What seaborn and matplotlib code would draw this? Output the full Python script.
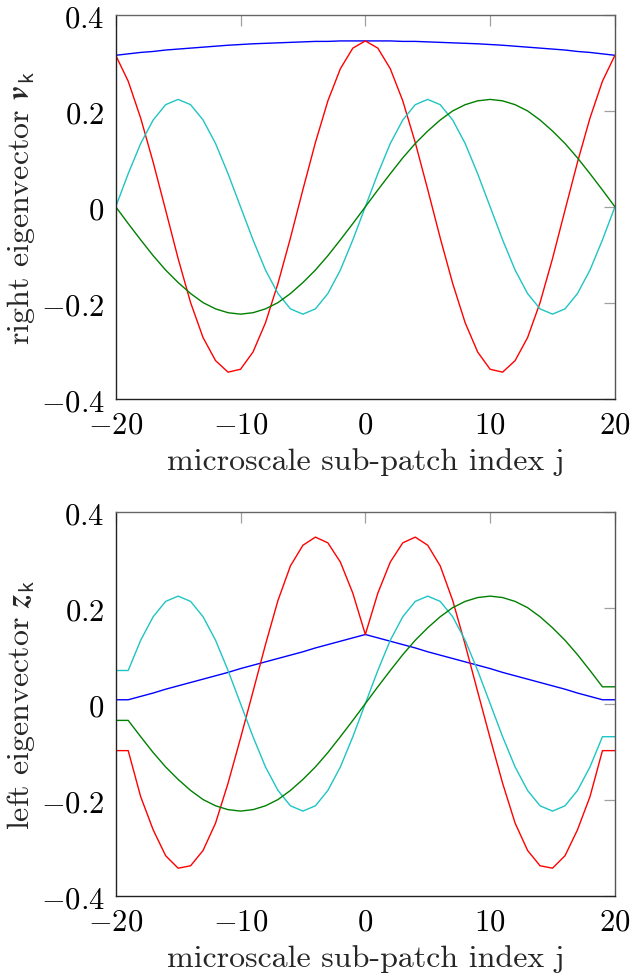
import io
import matplotlib
matplotlib.use("Agg")
import matplotlib.pyplot as plt
from matplotlib.ticker import FixedLocator, FixedFormatter
from matplotlib.font_manager import FontProperties
from matplotlib.mathtext import math_to_image
import numpy as np
import pandas as pd
import seaborn as sns

# ---------------- data ----------------
j = [-20, -19, -18, -17, -16, -15, -14, -13, -12, -11, -10, -9, -8, -7, -6, -5, -4, -3, -2, -1, 0,
     1, 2, 3, 4, 5, 6, 7, 8, 9, 10, 11, 12, 13, 14, 15, 16, 17, 18, 19, 20]

right_blue = [0.316, 0.319, 0.322, 0.324, 0.327, 0.329, 0.331, 0.333, 0.335, 0.337, 0.3385,
              0.340, 0.341, 0.342, 0.343, 0.344, 0.345, 0.345, 0.346, 0.346, 0.346,
              0.346, 0.346, 0.345, 0.345, 0.344, 0.343, 0.342, 0.341, 0.340, 0.3385,
              0.337, 0.335, 0.333, 0.331, 0.329, 0.327, 0.324, 0.322, 0.319, 0.316]
right_red = [0.316, 0.262, 0.185, 0.093, -0.007, -0.108, -0.200, -0.273, -0.321, -0.345, -0.339,
             -0.303, -0.242, -0.160, -0.065, 0.036, 0.134, 0.221, 0.288, 0.331, 0.346,
             0.331, 0.288, 0.221, 0.134, 0.036, -0.065, -0.160, -0.242, -0.303, -0.339,
             -0.345, -0.321, -0.273, -0.200, -0.108, -0.007, 0.093, 0.185, 0.262, 0.316]
right_cyan = [0.0, 0.069, 0.132, 0.181, 0.213, 0.224, 0.213, 0.181, 0.132, 0.069, 0.0,
              -0.069, -0.132, -0.181, -0.213, -0.224, -0.213, -0.181, -0.132, -0.069, 0.0,
              0.069, 0.132, 0.181, 0.213, 0.224, 0.213, 0.181, 0.132, 0.069, 0.0,
              -0.069, -0.132, -0.181, -0.213, -0.224, -0.213, -0.181, -0.132, -0.069, 0.0]
right_green = [0.0, -0.035, -0.069, -0.102, -0.132, -0.158, -0.181, -0.200, -0.213, -0.221, -0.224,
               -0.221, -0.213, -0.200, -0.181, -0.158, -0.132, -0.102, -0.069, -0.035, 0.0,
               0.035, 0.069, 0.102, 0.132, 0.158, 0.181, 0.200, 0.213, 0.221, 0.224,
               0.221, 0.213, 0.200, 0.181, 0.158, 0.132, 0.102, 0.069, 0.035, 0.0]

left_blue = [0.008, 0.008, 0.015, 0.022, 0.030, 0.037, 0.044, 0.051, 0.058, 0.065, 0.073,
             0.080, 0.087, 0.094, 0.101, 0.108, 0.116, 0.123, 0.130, 0.137, 0.144,
             0.137, 0.130, 0.123, 0.116, 0.108, 0.101, 0.094, 0.087, 0.080, 0.073,
             0.065, 0.058, 0.051, 0.044, 0.037, 0.030, 0.022, 0.015, 0.008, 0.008]
left_red = [-0.098, -0.098, -0.194, -0.263, -0.317, -0.343, -0.338, -0.306, -0.249, -0.166, -0.072,
            0.025, 0.123, 0.215, 0.287, 0.330, 0.347, 0.335, 0.295, 0.230, 0.144,
            0.230, 0.295, 0.335, 0.347, 0.330, 0.287, 0.215, 0.123, 0.025, -0.072,
            -0.166, -0.249, -0.306, -0.338, -0.343, -0.317, -0.263, -0.194, -0.098, -0.098]
left_cyan = [0.069, 0.069, 0.132, 0.181, 0.213, 0.224, 0.213, 0.181, 0.132, 0.069, 0.0,
             -0.069, -0.132, -0.181, -0.213, -0.224, -0.213, -0.181, -0.132, -0.069, 0.0,
             0.069, 0.132, 0.181, 0.213, 0.224, 0.213, 0.181, 0.132, 0.069, 0.0,
             -0.069, -0.132, -0.181, -0.213, -0.224, -0.213, -0.181, -0.132, -0.069, -0.069]
left_green = [-0.035, -0.035, -0.069, -0.102, -0.132, -0.158, -0.181, -0.200, -0.213, -0.221, -0.224,
              -0.221, -0.213, -0.200, -0.181, -0.158, -0.132, -0.102, -0.069, -0.035, 0.0,
              0.035, 0.069, 0.102, 0.132, 0.158, 0.181, 0.200, 0.213, 0.221, 0.224,
              0.221, 0.213, 0.200, 0.181, 0.158, 0.132, 0.102, 0.069, 0.035, 0.035]

x_ticks = [-20, -10, 0, 10, 20]
x_tick_labels = ["-20", "-10", "0", "10", "20"]
y_ticks = [-0.4, -0.2, 0.0, 0.2, 0.4]
y_tick_labels = ["-0.4", "-0.2", "0", "0.2", "0.4"]
x_label = "microscale sub-patch index j"
series_names = ["mode 1", "mode 2", "mode 3", "mode 4"]
colors = {"mode 1": "#0000ff", "mode 2": "#ff0000", "mode 3": "#1fc4c4", "mode 4": "#008000"}

# ---------------- style ----------------
sns.set_theme(style="white")
plt.rcParams["mathtext.fontset"] = "cm"


def mt_ok(s):
    try:
        math_to_image(s, io.BytesIO(), prop=FontProperties(size=12), format="png")
        return True
    except Exception:
        return False


def vec_label(letter):
    for cand in (r"$\mathbfit{%s}_{\mathsf{k}}$", r"$\boldsymbol{%s}_{\mathsf{k}}$",
                 r"$\mathbf{%s}_{\mathsf{k}}$"):
        s = cand % letter
        if mt_ok(s):
            return s
    return letter + "k"


fig = plt.figure(figsize=(6.32, 9.78), dpi=100)
ax1 = fig.add_axes([0.1831, 0.5915, 0.7899, 0.3921])
ax2 = fig.add_axes([0.1831, 0.0833, 0.7899, 0.3925])

panels = [
    (ax1, [right_blue, right_red, right_cyan, right_green], "right eigenvector " + vec_label("v")),
    (ax2, [left_blue, left_red, left_cyan, left_green], "left eigenvector " + vec_label("z")),
]

fs_tick = 22
fs_lab = 23
for ax, ser, ylab in panels:
    df = pd.DataFrame({
        "j": j * 4,
        "val": ser[0] + ser[1] + ser[2] + ser[3],
        "mode": sum([[n] * len(j) for n in series_names], []),
    })
    sns.lineplot(data=df, x="j", y="val", hue="mode", palette=colors, sort=False,
                 estimator=None, legend=False, ax=ax, linewidth=1.0)
    ax.set_xlim(-20, 20)
    ax.set_ylim(-0.4, 0.4)
    ax.xaxis.set_major_locator(FixedLocator(x_ticks))
    ax.xaxis.set_major_formatter(FixedFormatter([r"$\mathsf{%s}$" % t for t in x_tick_labels]))
    ax.yaxis.set_major_locator(FixedLocator(y_ticks))
    ax.yaxis.set_major_formatter(FixedFormatter([r"$\mathsf{%s}$" % t for t in y_tick_labels]))
    ax.tick_params(direction="in", top=True, right=True, length=8, width=0.9,
                   color="#a0a0a0", labelsize=fs_tick, labelcolor="black")
    ax.tick_params(axis="x", pad=8)
    ax.tick_params(axis="y", pad=8)
    for side, c in (("left", "#222222"), ("bottom", "#222222"), ("top", "#666666"), ("right", "#555555")):
        ax.spines[side].set_visible(True)
        ax.spines[side].set_color(c)
        ax.spines[side].set_linewidth(1.0)
    ax.set_xlabel(x_label, fontfamily="cmr10", fontsize=fs_lab, labelpad=6)
    ax.set_ylabel(ylab, fontfamily="cmr10", fontsize=fs_lab, labelpad=3)
    ax.grid(False)

fig.savefig("out.png", dpi=100, facecolor="white")
